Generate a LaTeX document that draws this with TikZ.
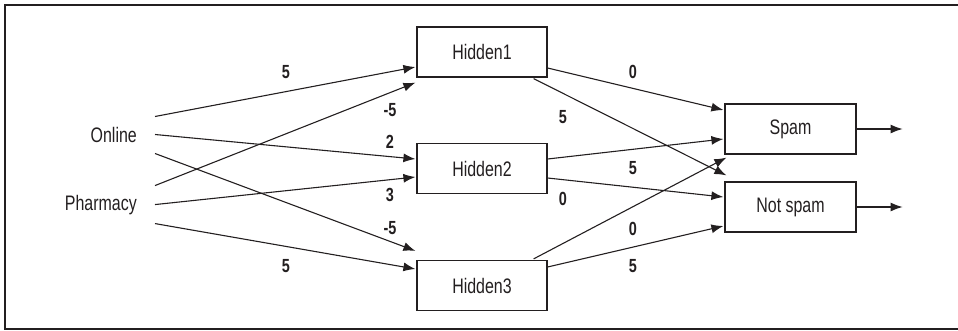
\documentclass[tikz,border=0pt]{standalone}
\usepackage{fontspec}
\setmainfont{Liberation Sans}[FakeStretch=0.76]
\usetikzlibrary{arrows.meta,calc}
\definecolor{ink}{HTML}{231F20}
\begin{document}
\begin{tikzpicture}[x=1pt,y=-1pt,
  box/.style={draw=ink,line width=1.2pt,minimum width=130pt,minimum height=50pt,inner sep=0pt,
    font=\fontsize{21}{24}\selectfont,text=ink},
  inlabel/.style={font=\fontsize{21}{24}\selectfont,text=ink,inner sep=0pt},
  wt/.style={font=\fontsize{19}{22}\selectfont\bfseries,text=ink,inner sep=0pt},
  conn/.style={draw=ink,line width=1.1pt,-{Latex[length=12pt,width=9pt]}}]
\useasboundingbox (0,0) rectangle (958,330);
% frame
\draw[ink,line width=1.5pt] (958,5) -- (5,5) -- (5,329) -- (958,329);
% input labels
\node[inlabel,anchor=base east] (online) at (137,142) {Online};
\node[inlabel,anchor=base east] (pharm) at (137,210) {Pharmacy};
% start points of input connectors
\coordinate (o1) at ($(online.east)+(18,-18)$);
\coordinate (o2) at ($(online.east)+(18,0)$);
\coordinate (o3) at ($(online.east)+(18,19)$);
\coordinate (p1) at ($(pharm.east)+(18,-19)$);
\coordinate (p2) at ($(pharm.east)+(18,0)$);
\coordinate (p3) at ($(pharm.east)+(18,19)$);
% boxes
\node[box] (h1) at (482,52) {Hidden1};
\node[box] (h2) at (482,168.5) {Hidden2};
\node[box] (h3) at (482,285.5) {Hidden3};
\node[box,minimum width=131pt] (spam) at (790.5,129) {Spam};
\node[box,minimum width=131pt] (nspam) at (790.5,207) {Not spam};
% output ends
\coordinate (so) at ($(spam.east)+(46,0)$);
\coordinate (no) at ($(nspam.east)+(46,0)$);
% input -> hidden
\draw[conn] (o1) -- ($(h1.west)+(-1,15)$);
\draw[conn] (p1) -- ($(h1.south west)+(-1,5)$);
\draw[conn] (o2) -- ($(h2.west)+(-1,-9.5)$);
\draw[conn] (p2) -- ($(h2.west)+(-1,8.5)$);
\draw[conn] (o3) -- ($(h3.north west)+(-1,-9)$);
\draw[conn] (p3) -- ($(h3.west)+(-1,-16.5)$);
% hidden -> output
\draw[conn] ($(h1.east)+(0,16)$) -- ($(spam.west)+(-1,-19)$);
\draw[conn] ($(h1.south east)+(-14,1)$) -- ($(nspam.north west)+(2,-6)$);
\draw[conn] ($(h2.east)+(0,-9.5)$) -- ($(spam.west)+(-1,10)$);
\draw[conn] ($(h2.east)+(0,9.5)$) -- ($(nspam.west)+(-1,-10)$);
\draw[conn] ($(h3.north east)+(-14,-1)$) -- ($(spam.south west)+(2,3)$);
\draw[conn] ($(h3.east)+(0,-18.5)$) -- ($(nspam.west)+(-1,19)$);
% outputs
\draw[conn] (spam) -- (so);
\draw[conn] (nspam) -- (no);
% weights
\node[wt] (w1) at (286,72) {5};
\node[wt] (w2) at (390,110) {-5};
\node[wt] (w3) at (390,142) {2};
\node[wt] (w4) at (390,195) {3};
\node[wt] (w5) at (390,228) {-5};
\node[wt] (w6) at (286,266) {5};
\node[wt] (w7) at (633,72) {0};
\node[wt] (w8) at (563,117) {5};
\node[wt] (w9) at (633,168) {5};
\node[wt] (w10) at (563,199) {0};
\node[wt] (w11) at (633,229) {0};
\node[wt] (w12) at (633,266) {5};
\end{tikzpicture}
\end{document}
